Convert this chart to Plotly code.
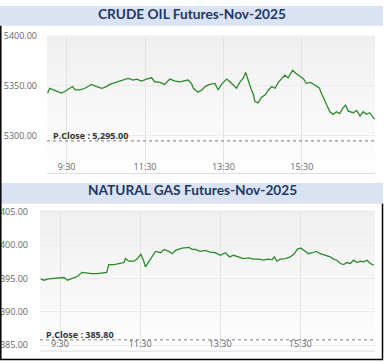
import plotly.graph_objects as go
import pandas as pd

# ---------------- data ----------------
crude_title = "CRUDE OIL Futures-Nov-2025"
gas_title = "NATURAL GAS Futures-Nov-2025"
crude_prev_close = 5295.00
gas_prev_close = 385.80

crude_times = ["09:01", "09:04", "09:09", "09:17", "09:22", "09:27", "09:35", "09:39", "09:43", "09:50",
               "09:58", "10:03", "10:08", "10:16", "10:24", "10:31", "10:36", "10:44", "10:52", "10:59",
               "11:04", "11:12", "11:17", "11:25", "11:32", "11:40", "11:45", "11:53", "12:00", "12:08",
               "12:16", "12:23", "12:31", "12:36", "12:41", "12:44", "12:51", "12:57", "13:02", "13:09",
               "13:17", "13:22", "13:27", "13:35", "13:40", "13:45", "13:50", "13:55", "14:00", "14:04",
               "14:08", "14:12", "14:16", "14:18", "14:23", "14:28", "14:34", "14:39", "14:44", "14:49",
               "14:54", "14:59", "15:04", "15:09", "15:16", "15:21", "15:27", "15:32", "15:37", "15:43",
               "15:50", "15:57", "16:00", "16:05", "16:09", "16:13", "16:18", "16:23", "16:28", "16:33",
               "16:37", "16:41", "16:49", "16:54", "16:59", "17:04", "17:09", "17:14", "17:21"]
crude_values = [5342.8, 5347.7, 5346.4, 5344.4, 5342.8, 5344.4, 5347.7, 5349.4, 5346.0, 5346.0,
                5347.7, 5349.4, 5351.6, 5349.4, 5347.7, 5349.4, 5351.6, 5353.3, 5354.9, 5355.9,
                5357.5, 5355.9, 5356.9, 5354.9, 5356.9, 5358.2, 5354.2, 5353.6, 5351.6, 5356.9,
                5354.9, 5354.2, 5355.6, 5355.9, 5352.6, 5347.7, 5343.8, 5346.0, 5349.4, 5351.6,
                5352.6, 5346.0, 5351.6, 5356.9, 5354.2, 5351.0, 5347.7, 5353.6, 5357.5, 5363.4,
                5354.2, 5347.7, 5341.2, 5334.6, 5333.0, 5338.5, 5341.2, 5346.0, 5349.4, 5347.7,
                5353.6, 5357.5, 5360.8, 5358.2, 5365.7, 5362.5, 5360.1, 5357.5, 5352.6, 5353.6,
                5351.0, 5347.7, 5342.8, 5334.6, 5329.7, 5324.2, 5321.6, 5324.2, 5322.3, 5328.1,
                5330.7, 5324.8, 5323.2, 5325.5, 5319.9, 5324.2, 5321.6, 5323.2, 5316.7]

gas_times = ["09:01", "09:06", "09:13", "09:21", "09:28", "09:36", "09:41", "09:48", "09:56", "10:03",
             "10:11", "10:18", "10:26", "10:33", "10:40", "10:43", "10:51", "10:58", "11:06", "11:08",
             "11:13", "11:21", "11:26", "11:31", "11:35", "11:38", "11:43", "11:48", "11:53", "12:01",
             "12:06", "12:13", "12:18", "12:23", "12:33", "12:43", "12:48", "12:53", "13:00", "13:08",
             "13:15", "13:23", "13:30", "13:38", "13:44", "13:50", "13:58", "14:05", "14:13", "14:20",
             "14:28", "14:35", "14:41", "14:48", "14:51", "14:55", "15:00", "15:08", "15:15", "15:21",
             "15:26", "15:31", "15:38", "15:42", "15:48", "15:54", "16:00", "16:07", "16:15", "16:20",
             "16:25", "16:30", "16:35", "16:40", "16:45", "16:50", "16:55", "17:00", "17:05", "17:10",
             "17:15", "17:20"]
gas_values = [394.96, 394.75, 394.96, 395.05, 395.15, 395.15, 394.75, 394.96, 395.30, 395.93,
              395.78, 395.74, 395.74, 395.84, 395.93, 397.10, 397.10, 397.25, 397.40, 397.99,
              397.60, 397.60, 397.99, 398.63, 397.75, 396.76, 397.60, 398.34, 399.07, 398.87,
              399.37, 399.07, 398.72, 399.22, 399.56, 399.66, 399.37, 399.37, 399.07, 399.22,
              398.97, 398.87, 398.49, 398.87, 398.24, 398.49, 398.24, 397.99, 398.09, 397.90,
              397.90, 397.75, 397.90, 397.84, 398.24, 397.60, 397.90, 397.99, 398.24, 398.72,
              399.46, 399.56, 399.07, 398.72, 398.87, 399.07, 398.72, 398.49, 398.24, 397.90,
              397.75, 397.25, 397.10, 397.40, 397.25, 397.75, 397.40, 397.60, 397.50, 397.75,
              397.25, 397.01]

tick_times = ["09:30", "11:30", "13:30", "15:30"]
tick_labels = ["9:30", "11:30", "13:30", "15:30"]
crude_yticks = [5300, 5350, 5400]
gas_yticks = [385, 390, 395, 400, 405]

DAY = "2025-10-31 "
# ---------------------------------------

W, H = 385, 362


def X(p):
    return p / W


def Y(p):
    return 1 - p / H


def ts(lst):
    return pd.to_datetime([DAY + t for t in lst])


LINE_GREEN = "#2b8a2b"
TICK_FONT = dict(family="Open Sans", size=9, color="#666666")

fig = go.Figure()
fig.add_trace(go.Scatter(x=ts(crude_times), y=crude_values, mode="lines",
                         line=dict(color=LINE_GREEN, width=1.3), xaxis="x", yaxis="y",
                         showlegend=False, hoverinfo="skip"))
fig.add_trace(go.Scatter(x=ts(gas_times), y=gas_values, mode="lines",
                         line=dict(color=LINE_GREEN, width=1.3), xaxis="x2", yaxis="y2",
                         showlegend=False, hoverinfo="skip"))

xcommon = dict(type="date", range=[DAY + "09:00", DAY + "17:22"],
               tickmode="array", tickvals=list(ts(tick_times)), ticktext=tick_labels,
               showgrid=True, gridcolor="#e4e4e4", gridwidth=1,
               ticks="", zeroline=False, tickfont=TICK_FONT, fixedrange=True)
ycommon = dict(showgrid=True, gridcolor="#ebebeb", gridwidth=1, ticks="", zeroline=False,
               showline=False, tickformat=".2f", tickfont=TICK_FONT, fixedrange=True)

fig.update_layout(
    width=W, height=H, margin=dict(l=0, r=0, t=0, b=0),
    paper_bgcolor="white", plot_bgcolor="white",
    xaxis=dict(domain=[X(47), X(375)], anchor="y", ticklabelposition="inside",
               showline=True, linecolor="#dedede", linewidth=1, **xcommon),
    yaxis=dict(domain=[Y(170), Y(30)], anchor="x", range=[5262.7, 5400.5],
               tickmode="array", tickvals=crude_yticks, ticklabelstandoff=9, **ycommon),
    xaxis2=dict(domain=[X(40), X(375)], anchor="free", position=Y(336.5),
                showline=False, **xcommon),
    yaxis2=dict(domain=[Y(351), Y(208)], anchor="x2", range=[384.1, 405.2],
                tickmode="array", tickvals=gas_yticks, ticklabelstandoff=11, **ycommon),
)

shapes = []
# gradient plot backgrounds
N = 24
for xr, yr in (("x domain", "y domain"), ("x2 domain", "y2 domain")):
    for i in range(N):
        f = i / (N - 1)
        g = int(round(254 - 15 * f))
        shapes.append(dict(type="rect", xref=xr, yref=yr, x0=0, x1=1,
                           y0=i / N, y1=(i + 1) / N, fillcolor=f"rgb({g},{g},{g})",
                           line=dict(width=0), layer="below"))
# bottom edge of lower plot area
shapes.append(dict(type="line", xref="x2 domain", yref="y2 domain", x0=0, x1=1, y0=0, y1=0,
                   line=dict(color="#dedede", width=1)))

# title bars
for top, bot in ((0, 20), (180, 201)):
    shapes.append(dict(type="rect", xref="paper", yref="paper", x0=0, x1=X(383),
                       y0=Y(bot), y1=Y(top), fillcolor="#dae3f3", line=dict(width=0)))

# previous close dotted lines
shapes.append(dict(type="line", xref="x domain", yref="y", x0=0, x1=1,
                   y0=crude_prev_close, y1=crude_prev_close,
                   line=dict(color="#7a7a7a", width=1, dash="dot")))
shapes.append(dict(type="line", xref="x2 domain", yref="y2", x0=0, x1=1,
                   y0=gas_prev_close, y1=gas_prev_close,
                   line=dict(color="#7a7a7a", width=1, dash="dot")))

# outer frame
shapes.append(dict(type="line", xref="paper", yref="paper", x0=X(0.8), x1=X(0.8), y0=Y(20), y1=Y(360),
                   line=dict(color="black", width=1.5)))
shapes.append(dict(type="line", xref="paper", yref="paper", x0=X(0), x1=X(383), y0=Y(359.5), y1=Y(359.5),
                   line=dict(color="black", width=1.5)))
shapes.append(dict(type="line", xref="paper", yref="paper", x0=X(382.5), x1=X(382.5), y0=Y(201), y1=Y(360),
                   line=dict(color="black", width=1.5)))
fig.update_layout(shapes=shapes)

TITLE_FONT = dict(family="Lato", size=13.7, color="#1f3864")
annotations = [
    dict(text=f"<b>{crude_title}</b>", xref="paper", yref="paper", x=X(192), y=Y(7.5),
         xanchor="center", yanchor="middle", showarrow=False, font=TITLE_FONT),
    dict(text=f"<b>{gas_title}</b>", xref="paper", yref="paper", x=X(193), y=Y(187),
         xanchor="center", yanchor="middle", showarrow=False, font=TITLE_FONT),
    dict(text=f"<b>P.Close : {crude_prev_close:,.2f}</b>", xref="x domain", yref="y",
         x=0.012, y=crude_prev_close, xanchor="left", yanchor="bottom", showarrow=False,
         yshift=-3, font=dict(family="Open Sans", size=9, color="#333333")),
    dict(text=f"<b>P.Close : {gas_prev_close:,.2f}</b>", xref="x2 domain", yref="y2",
         x=0.012, y=gas_prev_close, xanchor="left", yanchor="bottom", showarrow=False,
         yshift=-3, font=dict(family="Open Sans", size=9, color="#333333")),
]
fig.update_layout(annotations=annotations)

fig.write_html("out.html", config={"displayModeBar": False},
               post_script="document.body.style.margin='0px';document.body.style.overflow='hidden';")
